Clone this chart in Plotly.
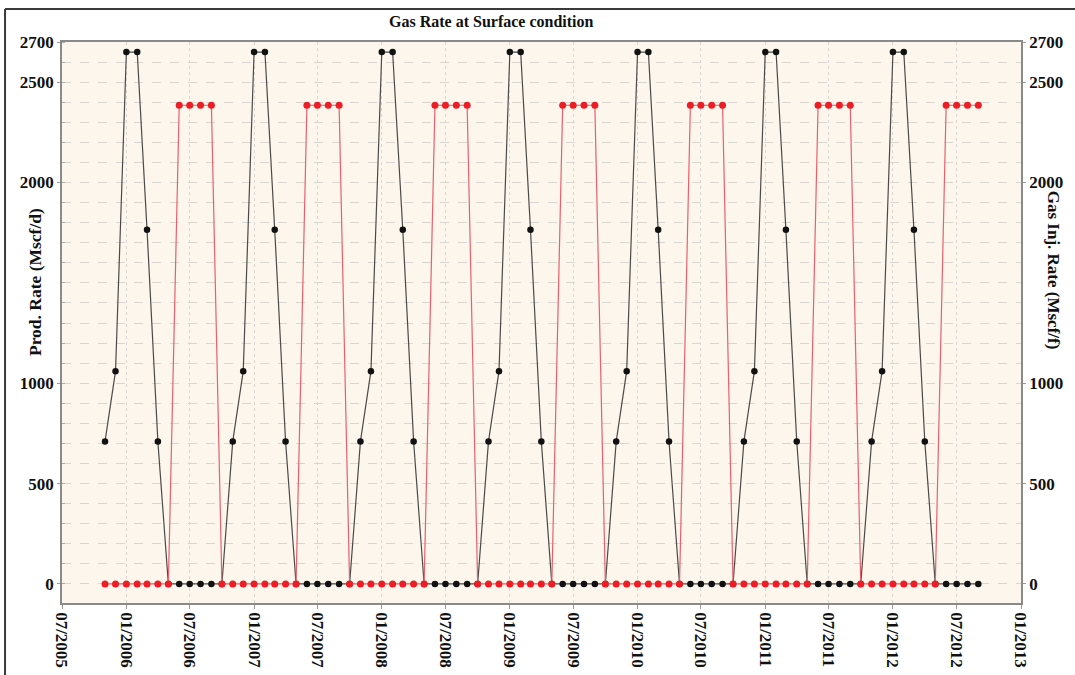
import pandas as pd
import plotly.graph_objects as go

# Monthly samples, Nov 2005 .. Sep 2012
months = pd.date_range("2005-11-01", "2012-09-01", freq="MS")

# Production gas rate (Mscf/d), one row per Nov..Oct season
prod_rate = [
    710, 1060, 2650, 2650, 1765, 710, 0, 0, 0, 0, 0, 0,
    710, 1060, 2650, 2650, 1765, 710, 0, 0, 0, 0, 0, 0,
    710, 1060, 2650, 2650, 1765, 710, 0, 0, 0, 0, 0, 0,
    710, 1060, 2650, 2650, 1765, 710, 0, 0, 0, 0, 0, 0,
    710, 1060, 2650, 2650, 1765, 710, 0, 0, 0, 0, 0, 0,
    710, 1060, 2650, 2650, 1765, 710, 0, 0, 0, 0, 0, 0,
    710, 1060, 2650, 2650, 1765, 710, 0, 0, 0, 0, 0,
]

# Gas injection rate (Mscf/d)
inj_rate = [
    0, 0, 0, 0, 0, 0, 0, 2385, 2385, 2385, 2385, 0,
    0, 0, 0, 0, 0, 0, 0, 2385, 2385, 2385, 2385, 0,
    0, 0, 0, 0, 0, 0, 0, 2385, 2385, 2385, 2385, 0,
    0, 0, 0, 0, 0, 0, 0, 2385, 2385, 2385, 2385, 0,
    0, 0, 0, 0, 0, 0, 0, 2385, 2385, 2385, 2385, 0,
    0, 0, 0, 0, 0, 0, 0, 2385, 2385, 2385, 2385, 0,
    0, 0, 0, 0, 0, 0, 0, 2385, 2385, 2385, 2385,
]

y_tick_vals = [0, 500, 1000, 2000, 2500, 2700]
y_tick_text = ["0", "500", "1000", "2000", "2500", "2700"]

FONT = "Liberation Serif"

fig = go.Figure()
fig.add_trace(go.Scatter(
    x=months, y=prod_rate, mode="lines+markers", name="Prod. Rate",
    line=dict(color="#4a4a4a", width=1.2),
    marker=dict(color="#111111", size=6.5),
    yaxis="y",
))
fig.add_trace(go.Scatter(
    x=months, y=inj_rate, mode="lines+markers", name="Gas Inj. Rate",
    line=dict(color="#e8606c", width=1.2),
    marker=dict(color="#ee1c24", size=7),
    yaxis="y2",
))

axis_font = dict(family=FONT, size=17, color="#111111", weight="bold")
grid_col = "#d9d6d0"

fig.update_layout(
    width=1075, height=675,
    margin=dict(l=62, r=54, t=42, b=72),
    paper_bgcolor="white",
    plot_bgcolor="#fcf6ec",
    showlegend=False,
    font=dict(family=FONT, color="#111111"),
    xaxis=dict(
        type="date",
        range=["2005-07-01", "2013-01-01"],
        tick0="2005-07-01", dtick="M6",
        tickformat="%m/%Y", tickangle=90,
        tickfont=axis_font, automargin=False,
        showgrid=True, gridcolor=grid_col, griddash="dot", gridwidth=1,
        showline=True, linecolor="#8a8a8a", linewidth=1.5, mirror=True,
        ticks="outside", ticklen=4, tickcolor="#9a9a9a",
        zeroline=False,
    ),
    yaxis=dict(
        range=[-95, 2700], automargin=False,
        tickvals=y_tick_vals, ticktext=y_tick_text,
        tickfont=axis_font,
        showgrid=True, gridcolor=grid_col, griddash="dash", gridwidth=1,
        minor=dict(dtick=100, tick0=0, showgrid=True, gridcolor=grid_col,
                   griddash="dash", ticks="inside", ticklen=3, tickcolor="#aaaaaa"),
        showline=True, linecolor="#8a8a8a", linewidth=1.5,
        ticks="outside", ticklen=3, tickcolor="#9a9a9a",
        zeroline=False,
    ),
    yaxis2=dict(
        range=[-95, 2700], automargin=False,
        overlaying="y", side="right",
        tickvals=y_tick_vals, ticktext=y_tick_text,
        tickfont=axis_font,
        showgrid=False,
        showline=True, linecolor="#8a8a8a", linewidth=1.5,
        ticks="outside", ticklen=3, tickcolor="#9a9a9a",
        zeroline=False,
    ),
    annotations=[
        dict(text="<b>Gas Rate at Surface condition</b>", xref="paper", yref="paper",
             x=0.448, y=1.0357, showarrow=False, xanchor="center", yanchor="middle",
             font=dict(family=FONT, size=16, color="#111111")),
        dict(text="<b>Prod. Rate (Mscf/d)</b>", xref="paper", yref="paper",
             x=-0.0282, y=0.572, showarrow=False, textangle=-90,
             xanchor="center", yanchor="middle",
             font=dict(family=FONT, size=17.5, color="#111111")),
        dict(text="<b>Gas Inj. Rate (Mscf/f)</b>", xref="paper", yref="paper",
             x=1.0334, y=0.594, showarrow=False, textangle=90,
             xanchor="center", yanchor="middle",
             font=dict(family=FONT, size=17, color="#111111")),
    ],
    shapes=[
        dict(type="line", xref="paper", yref="paper", x0=-0.0594, x1=1.06,
             y0=1.0588, y1=1.0588, line=dict(color="#3a3a3a", width=2)),
        dict(type="line", xref="paper", yref="paper", x0=-0.0594, x1=-0.0594,
             y0=1.0588, y1=-0.14, line=dict(color="#3a3a3a", width=2)),
    ],
)

fig.write_html("out.html")
